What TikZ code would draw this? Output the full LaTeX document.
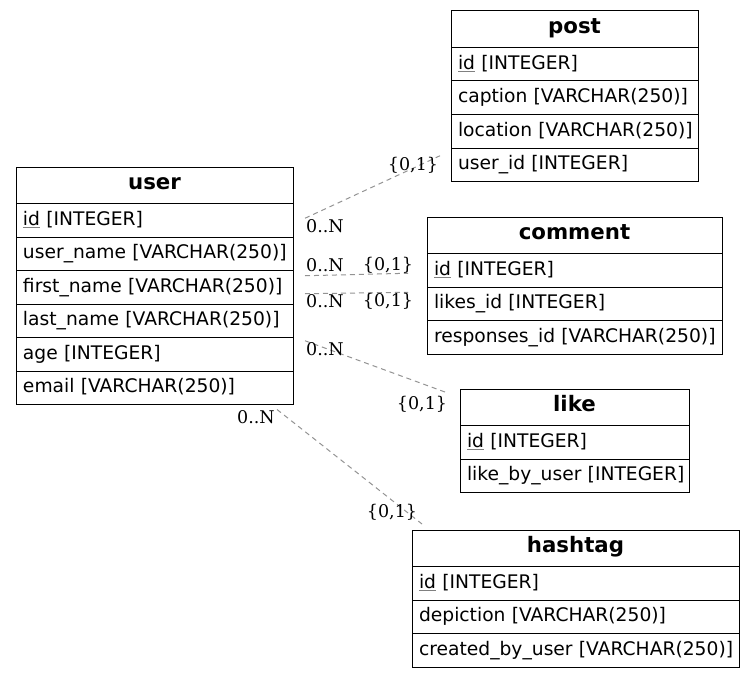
\documentclass[tikz,border=0pt]{standalone}
\usepackage{fontspec}
\setmainfont{DejaVu Sans}
\newfontfamily\lblfont{DejaVu Serif}
% primary key: text with a thin grey rule under it
\newcommand\pkey[1]{\setbox0\hbox{#1}\rlap{\color{gray}\rule[-3pt]{\wd0}{0.8pt}}\box0\relax}
\begin{document}
\begin{tikzpicture}[x=1pt,y=-1pt,
  cell/.style={draw, line width=1pt, outer sep=0pt, anchor=north west, inner xsep=7pt, inner ysep=0pt},
  head/.style={cell, minimum height=36.5pt, text height=13.5pt, text depth=5.5pt, align=center,
    font=\fontsize{21.3}{23}\selectfont\bfseries},
  field/.style={cell, minimum height=33.5pt, text height=14pt, text depth=4pt, align=left,
    font=\fontsize{18.7}{20}\selectfont},
  rel/.style={draw=gray!85!white, line width=1pt, dash pattern=on 5pt off 4pt},
  card/.style={font=\fontsize{17.5}{18}\selectfont\lblfont, inner sep=0pt}]
\useasboundingbox (0,0) rectangle (755,677);

% user table
\node[head, text width=263pt] (user) at (16,167) {user};
\node[field, text width=263pt] (user-id) at (user.south west) {\pkey{id} [INTEGER]};
\node[field, text width=263pt] (user-un) at (user-id.south west) {\mbox{user\_name [VARCHAR(250)]}};
\node[field, text width=263pt] (user-fn) at (user-un.south west) {\mbox{first\_name [VARCHAR(250)]}};
\node[field, text width=263pt] (user-ln) at (user-fn.south west) {\mbox{last\_name [VARCHAR(250)]}};
\node[field, text width=263pt] (user-age) at (user-ln.south west) {age [INTEGER]};
\node[field, text width=263pt] (user-email) at (user-age.south west) {\mbox{email [VARCHAR(250)]}};

% post table
\node[head, text width=233pt] (post) at (451,11) {post};
\node[field, text width=233pt] (post-id) at (post.south west) {\pkey{id} [INTEGER]};
\node[field, text width=233pt] (post-cap) at (post-id.south west) {\mbox{caption [VARCHAR(250)]}};
\node[field, text width=233pt] (post-loc) at (post-cap.south west) {\mbox{location [VARCHAR(250)]}};
\node[field, text width=233pt] (post-uid) at (post-loc.south west) {\mbox{user\_id [INTEGER]}};

% comment table
\node[head, text width=281pt] (comment) at (427,217) {comment};
\node[field, text width=281pt] (comment-id) at (comment.south west) {\pkey{id} [INTEGER]};
\node[field, text width=281pt] (comment-lk) at (comment-id.south west) {\mbox{likes\_id [INTEGER]}};
\node[field, text width=281pt] (comment-rs) at (comment-lk.south west) {\mbox{responses\_id [VARCHAR(250)]}};

% like table
\node[head, text width=215pt] (like) at (460,389) {like};
\node[field, text width=215pt] (like-id) at (like.south west) {\pkey{id} [INTEGER]};
\node[field, text width=215pt] (like-by) at (like-id.south west) {\mbox{like\_by\_user [INTEGER]}};

% hashtag table
\node[head, text width=313pt] (hashtag) at (412,530) {hashtag};
\node[field, text width=313pt] (hashtag-id) at (hashtag.south west) {\pkey{id} [INTEGER]};
\node[field, text width=313pt] (hashtag-dp) at (hashtag-id.south west) {\mbox{depiction [VARCHAR(250)]}};
\node[field, text width=313pt] (hashtag-cb) at (hashtag-dp.south west) {\mbox{created\_by\_user [VARCHAR(250)]}};

% relationship end points
\coordinate (r1a) at ([shift={(12,-2)}]user-id.east);
\coordinate (r1b) at ([shift={(-11,-9)}]post-uid.west);
\coordinate (r2a) at ([shift={(12,-11.5)}]user-fn.east);
\coordinate (r2b) at ([shift={(-19,3)}]comment-id.west);
\coordinate (r3a) at ([shift={(12,6.5)}]user-fn.east);
\coordinate (r3b) at ([shift={(-19,-11.5)}]comment-lk.west);
\coordinate (r4a) at ([shift={(12,-13.5)}]user-age.east);
\coordinate (r4b) at ([shift={(-13,-14.5)}]like.west);
\coordinate (r5a) at ([shift={(-16,5)}]user-email.south east);
\coordinate (r5b) at ([shift={(10,-6)}]hashtag.north west);

\draw[rel] (r1a) -- (r1b);
\draw[rel] (r2a) -- (r2b);
\draw[rel] (r3a) -- (r3b);
\draw[rel] (r4a) -- (r4b);
\draw[rel] (r5a) -- (r5b);

% cardinality labels
\node[card] (c1a) at (325,226) {0..N};
\node[card] (c1b) at (413,165) {\{0,1\}};
\node[card] (c2a) at (325,265) {0..N};
\node[card] (c2b) at (388,265) {\{0,1\}};
\node[card] (c3a) at (325,301) {0..N};
\node[card] (c3b) at (388,301) {\{0,1\}};
\node[card] (c4a) at (325,349) {0..N};
\node[card] (c4b) at (422,404) {\{0,1\}};
\node[card] (c5a) at (256,417) {0..N};
\node[card] (c5b) at (392,512) {\{0,1\}};
\end{tikzpicture}
\end{document}
